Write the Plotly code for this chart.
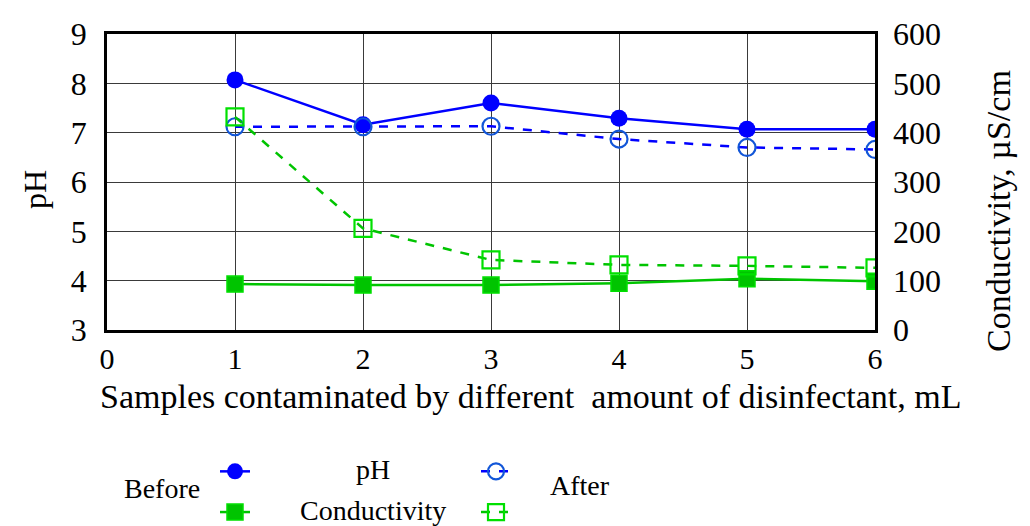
import plotly.graph_objects as go

# ---- data ----
samples = [1, 2, 3, 4, 5, 6]
ph_before = [8.07, 7.16, 7.60, 7.29, 7.07, 7.07]
ph_after = [7.12, 7.12, 7.13, 6.87, 6.70, 6.66]
cond_before = [93, 91, 91, 95, 104, 99]
cond_after = [432, 206, 142, 132, 130, 126]
x_ticks = [0, 1, 2, 3, 4, 5, 6]
ph_ticks = [3, 4, 5, 6, 7, 8, 9]
cond_ticks = [0, 100, 200, 300, 400, 500, 600]

W, H = 1030, 526
L, R, T, B = 107, 875, 34, 330
FONT = "Liberation Serif"
BLUE = "#0000FF"
BLUE2 = "#1256D8"
GREEN = "#00C400"
GREEN2 = "#00E000"


def px(xp):
    return (xp - L) / (R - L)


def py(yp):
    return (B - yp) / (B - T)


fig = go.Figure()

fig.add_trace(go.Scatter(
    x=samples, y=ph_before, name=" ", legend="legend",
    mode="lines+markers",
    line=dict(color=BLUE, width=2.5),
    marker=dict(symbol="circle", size=17, color=BLUE, line=dict(width=0)),
))
fig.add_trace(go.Scatter(
    x=samples, y=cond_before, name=" ", legend="legend", yaxis="y2",
    mode="lines+markers",
    line=dict(color=GREEN, width=2.5),
    marker=dict(symbol="square", size=16, color=GREEN, line=dict(width=1.5, color=GREEN2)),
))
fig.add_trace(go.Scatter(
    x=samples, y=ph_after, name=" ", legend="legend2",
    mode="lines+markers",
    line=dict(color=BLUE, width=2.5, dash="dash"),
    marker=dict(symbol="circle-open", size=17, color=BLUE2, line=dict(width=2.2)),
))
fig.add_trace(go.Scatter(
    x=samples, y=cond_after, name=" ", legend="legend2", yaxis="y2",
    mode="lines+markers",
    line=dict(color=GREEN, width=2.5, dash="dash"),
    marker=dict(symbol="square-open", size=17, color=GREEN2, line=dict(width=2.2)),
))

tickfont = dict(family=FONT, size=32, color="black")
xtickfont = dict(family=FONT, size=30, color="black")

fig.update_layout(
    width=W, height=H,
    margin=dict(l=L, r=W - R, t=T, b=H - B, pad=0, autoexpand=False),
    paper_bgcolor="white", plot_bgcolor="white",
    font=dict(family=FONT, size=31, color="black"),
    xaxis=dict(
        range=[0, 6], tickvals=x_ticks, ticktext=[str(v) for v in x_ticks],
        showgrid=True, gridcolor="#3a3a3a", gridwidth=1.2,
        showline=True, linecolor="black", linewidth=2.5, mirror=True,
        ticks="", tickfont=xtickfont, ticklabelstandoff=0, zeroline=False,
        automargin=False,
    ),
    yaxis=dict(
        range=[3, 9], tickvals=ph_ticks, ticktext=[str(v) for v in ph_ticks],
        showgrid=True, gridcolor="#3a3a3a", gridwidth=1.2,
        showline=True, linecolor="black", linewidth=2.5, mirror=True,
        ticks="", tickfont=tickfont, ticklabelstandoff=11, zeroline=False,
        automargin=False,
    ),
    yaxis2=dict(
        range=[0, 600], tickvals=cond_ticks, ticktext=[str(v) for v in cond_ticks],
        overlaying="y", side="right", showgrid=False,
        ticks="", tickfont=tickfont, ticklabelstandoff=17, zeroline=False,
        automargin=False,
    ),
    legend=dict(
        xref="container", yref="container", x=215 / W, y=1 - 446 / H,
        xanchor="left", yanchor="top", bgcolor="rgba(0,0,0,0)",
        font=dict(family=FONT, size=29), tracegroupgap=0, itemwidth=30,
    ),
    legend2=dict(
        xref="container", yref="container", x=476 / W, y=1 - 446 / H,
        xanchor="left", yanchor="top", bgcolor="rgba(0,0,0,0)",
        font=dict(family=FONT, size=29), tracegroupgap=0, itemwidth=30,
    ),
    showlegend=True,
)

ann = [
    dict(text="pH", x=px(35), y=py(190), textangle=-90, size=32),
    dict(text="Conductivity, µS/cm", x=px(998), y=py(211), textangle=-90, size=34),
    dict(text="Samples contaminated by different  amount of disinfectant, mL",
         x=px(530), y=py(396), textangle=0, size=34),
    dict(text="Before", x=px(162), y=py(488), textangle=0, size=28),
    dict(text="pH", x=px(373), y=py(469), textangle=0, size=28),
    dict(text="Conductivity", x=px(373), y=py(510), textangle=0, size=28),
    dict(text="After", x=px(580), y=py(485), textangle=0, size=28),
]
for a in ann:
    fig.add_annotation(
        text=a["text"], x=a["x"], y=a["y"], xref="paper", yref="paper",
        xanchor="center", yanchor="middle", showarrow=False,
        textangle=a["textangle"], font=dict(family=FONT, size=a["size"], color="black"),
    )

fig.write_html("out.html", config={"displayModeBar": False},
               post_script="document.body.style.margin='0px';")
